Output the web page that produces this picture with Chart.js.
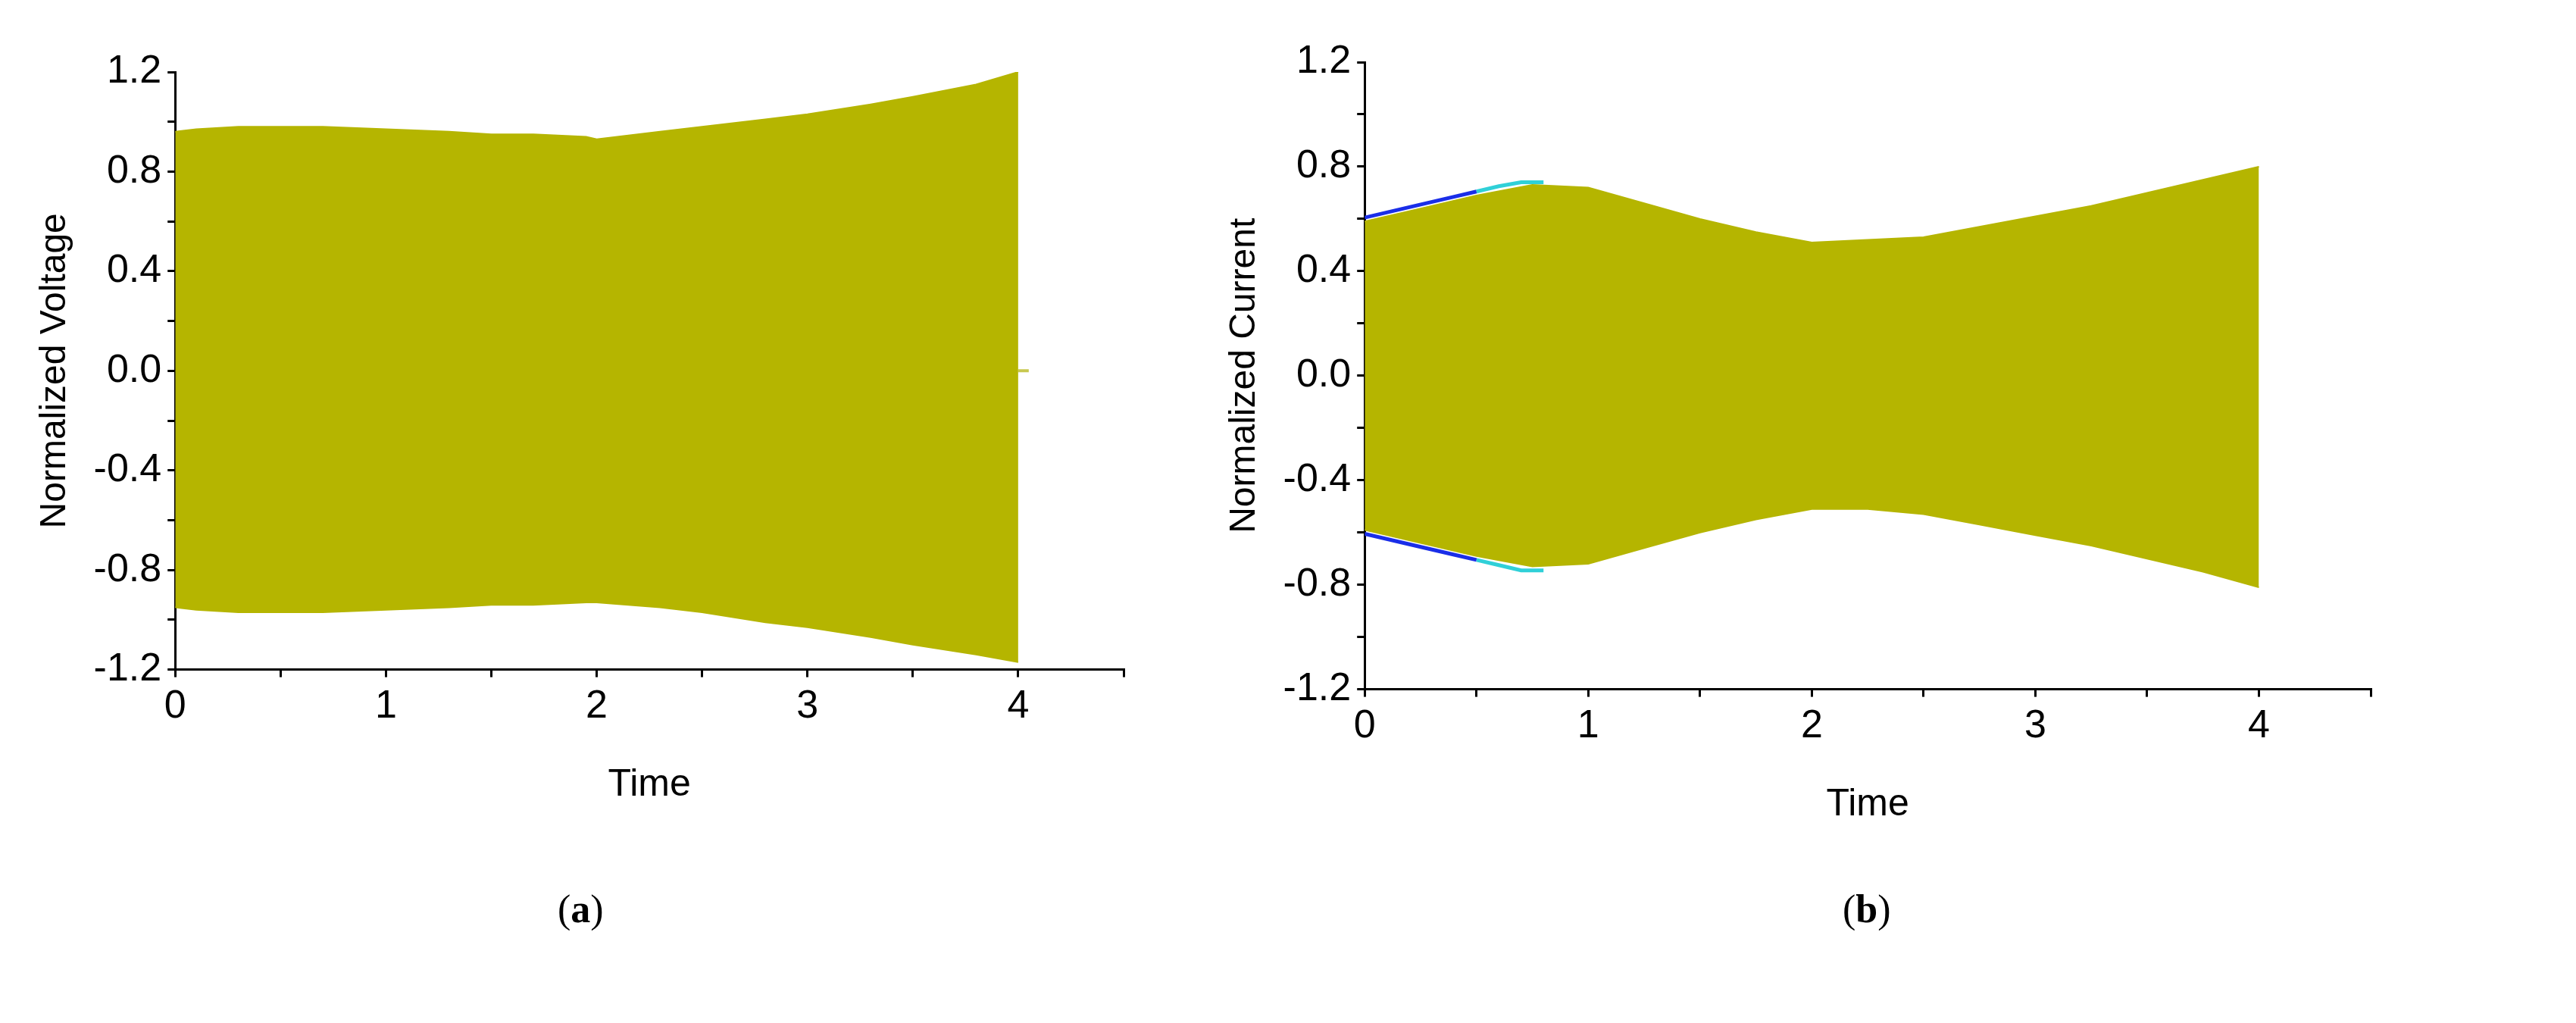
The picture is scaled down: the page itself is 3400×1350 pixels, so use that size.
<!DOCTYPE html>
<html><head><meta charset="utf-8">
<script src="https://cdn.jsdelivr.net/npm/chart.js@4"></script>
<style>
body{margin:0;background:#fff;width:3400px;height:1350px;position:relative;overflow:hidden;font-family:"Liberation Sans",Arial,sans-serif}
.box{position:absolute}
.cap{position:absolute;font-family:"Liberation Serif","Times New Roman",serif;font-size:52px;color:#000}
</style></head><body>
<div class="box" style="left:0;top:30px;width:1700px;height:1040px"><canvas id="c1"></canvas></div>
<div class="box" style="left:1570px;top:16px;width:1700px;height:1080px"><canvas id="c2"></canvas></div>
<div class="cap" style="left:736px;top:1170px">(<b>a</b>)</div>
<div class="cap" style="left:2432px;top:1170px">(<b>b</b>)</div>
<script>
const vT=[0,0.1,0.3,0.5,0.7,1,1.3,1.5,1.7,1.95,2.0,2.3,2.5,2.8,3,3.3,3.5,3.8,4];
const vUp=[0.96,0.97,0.98,0.98,0.98,0.97,0.96,0.95,0.95,0.94,0.93,0.96,0.98,1.01,1.03,1.07,1.1,1.15,1.2];
const vLo=[-0.95,-0.96,-0.97,-0.97,-0.97,-0.96,-0.95,-0.94,-0.94,-0.93,-0.93,-0.95,-0.97,-1.01,-1.03,-1.07,-1.1,-1.14,-1.17];
const cT=[0,0.25,0.5,0.75,1,1.25,1.5,1.75,2,2.25,2.5,2.75,3,3.25,3.5,3.75,4];
const cUp=[0.59,0.64,0.69,0.73,0.72,0.66,0.60,0.55,0.51,0.52,0.53,0.57,0.61,0.65,0.70,0.75,0.80];
const cLo=[-0.59,-0.64,-0.69,-0.73,-0.72,-0.66,-0.60,-0.55,-0.51,-0.51,-0.53,-0.57,-0.61,-0.65,-0.70,-0.75,-0.81];
const bT=[0,0.2,0.4,0.5];
const bUp=[0.605,0.645,0.685,0.705];
const bLo=[-0.605,-0.645,-0.685,-0.705];
const cyT=[0.5,0.6,0.7,0.8];
const cyUp=[0.705,0.725,0.74,0.74];
const cyLo=[-0.705,-0.725,-0.745,-0.745];
const yTicks=['-1.2','-0.8','-0.4','0.0','0.4','0.8','1.2'];
const xTicks=['0','1','2','3','4'];
const OL='#b5b500';
const pts=(t,v)=>t.map((x,i)=>({x,y:v[i]}));
const F='Liberation Sans Narrow, Liberation Sans';
function make(id,title,ds,pad){
  new Chart(document.getElementById(id),{type:'line',
    data:{datasets:ds},
    options:{responsive:true,maintainAspectRatio:false,animation:false,
      layout:{padding:pad},
      plugins:{legend:{display:false},tooltip:{enabled:false}},
      elements:{point:{radius:0},line:{tension:0}},
      scales:{
        x:{type:'linear',min:0,max:4.5,border:{color:'#000',width:3},
          grid:{drawOnChartArea:false,color:'#000',lineWidth:3,tickLength:10},
          ticks:{stepSize:0.5,color:'#000',font:{size:52,family:F},padding:8,maxRotation:0,
            callback:v=>Number.isInteger(v)?xTicks[v]:''},
          title:{display:true,text:'Time',color:'#000',font:{size:50,family:F},padding:{top:34}}},
        y:{min:-1.2,max:1.2,border:{color:'#000',width:3},
          grid:{drawOnChartArea:false,color:'#000',lineWidth:3,tickLength:10},
          ticks:{stepSize:0.2,color:'#000',font:{size:52,family:F},padding:8,
            callback:v=>{const k=Math.round((v+1.2)/0.4*1000)/1000;return Number.isInteger(k)?yTicks[k]:'';}},
          title:{display:true,text:title,color:'#000',font:{size:48},padding:{bottom:14}}}
      }}});
}
make('c1','Normalized Voltage',[
  {data:pts(vT,vUp),borderColor:OL,borderWidth:2,backgroundColor:OL,fill:'+1'},
  {data:pts(vT,vLo),borderColor:OL,borderWidth:2,fill:false},
  {data:[{x:4,y:0},{x:4.05,y:0}],borderColor:'#c8c850',borderWidth:4,fill:false}
],{left:40,right:217,top:65,bottom:0});
make('c2','Normalized Current',[
  {data:pts(cT,cUp),borderColor:OL,borderWidth:2,backgroundColor:OL,fill:'+1',order:1},
  {data:pts(cT,cLo),borderColor:OL,borderWidth:2,fill:false,order:1},
  {data:pts(bT,bUp),borderColor:'#1a2ee8',borderWidth:5,fill:false,order:2},
  {data:pts(bT,bLo),borderColor:'#1a2ee8',borderWidth:5,fill:false,order:2},
  {data:pts(cyT,cyUp),borderColor:'#30d0d8',borderWidth:5,fill:false,order:2},
  {data:pts(cyT,cyLo),borderColor:'#30d0d8',borderWidth:5,fill:false,order:2}
],{left:40,right:141,top:66,bottom:0});
</script></body></html>
